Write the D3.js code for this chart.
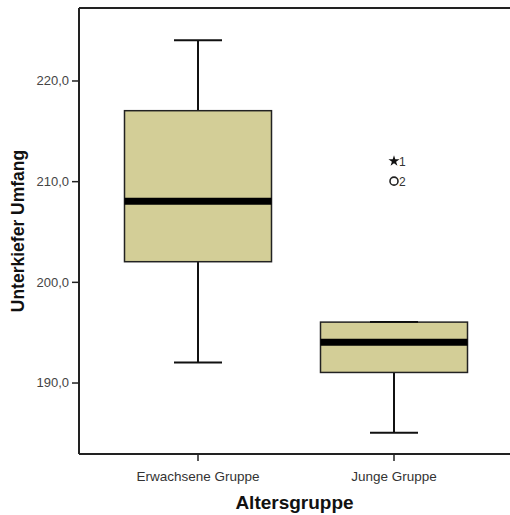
<!DOCTYPE html>
<html>
<head>
<meta charset="utf-8">
<script src="https://cdn.jsdelivr.net/npm/d3@7"></script>
<style>
  body { margin: 0; background: #fff; }
  text { font-family: Arial, "Liberation Sans", sans-serif; }
</style>
</head>
<body>
<div id="chart"></div>
<script>
// box plot values
const groups = ['Erwachsene Gruppe', 'Junge Gruppe'];
const whiskerLow = [192, 185];
const q1 = [202, 191];
const median = [208, 194];
const q3 = [217, 196];
const whiskerHigh = [224, 196];

// outliers: group index, value, case label, symbol
const outlierGroup = [1, 1];
const outlierValue = [212, 210];
const outlierLabel = ['1', '2'];
const outlierKind = ['star', 'circle'];

const yTicks = [190, 200, 210, 220];

const width = 510, height = 515;
const margin = {top: 8, right: 0, bottom: 61, left: 79};

const svg = d3.select('#chart').append('svg')
  .attr('width', width)
  .attr('height', height);

const y = d3.scaleLinear()
  .domain([182.9, 227.2])
  .range([height - margin.bottom, margin.top]);

const x = d3.scaleBand()
  .domain(groups)
  .range([100, 492])
  .paddingInner(0.25)
  .paddingOuter(0.125);

const boxData = groups.map((g, i) => ({
  g, lo: whiskerLow[i], q1: q1[i], med: median[i], q3: q3[i], hi: whiskerHigh[i]
}));

const capW = 48;

const boxes = svg.append('g').selectAll('g')
  .data(boxData)
  .join('g');

// whiskers
boxes.append('line')
  .attr('x1', d => x(d.g) + x.bandwidth() / 2)
  .attr('x2', d => x(d.g) + x.bandwidth() / 2)
  .attr('y1', d => y(d.hi))
  .attr('y2', d => y(d.q3))
  .attr('stroke', '#111').attr('stroke-width', 2);
boxes.append('line')
  .attr('x1', d => x(d.g) + x.bandwidth() / 2)
  .attr('x2', d => x(d.g) + x.bandwidth() / 2)
  .attr('y1', d => y(d.q1))
  .attr('y2', d => y(d.lo))
  .attr('stroke', '#111').attr('stroke-width', 2);

// box
boxes.append('rect')
  .attr('x', d => x(d.g))
  .attr('width', x.bandwidth())
  .attr('y', d => y(d.q3))
  .attr('height', d => y(d.q1) - y(d.q3))
  .attr('fill', '#d3ce97')
  .attr('stroke', '#222')
  .attr('stroke-width', 1.5);

// caps
boxes.append('line')
  .attr('x1', d => x(d.g) + x.bandwidth() / 2 - capW / 2)
  .attr('x2', d => x(d.g) + x.bandwidth() / 2 + capW / 2)
  .attr('y1', d => y(d.hi))
  .attr('y2', d => y(d.hi))
  .attr('stroke', '#111').attr('stroke-width', 2);
boxes.append('line')
  .attr('x1', d => x(d.g) + x.bandwidth() / 2 - capW / 2)
  .attr('x2', d => x(d.g) + x.bandwidth() / 2 + capW / 2)
  .attr('y1', d => y(d.lo))
  .attr('y2', d => y(d.lo))
  .attr('stroke', '#111').attr('stroke-width', 2);

// median
boxes.append('line')
  .attr('x1', d => x(d.g))
  .attr('x2', d => x(d.g) + x.bandwidth())
  .attr('y1', d => y(d.med))
  .attr('y2', d => y(d.med))
  .attr('stroke', '#000').attr('stroke-width', 7);

// outliers
const outliers = outlierValue.map((v, i) => ({
  g: groups[outlierGroup[i]], v, label: outlierLabel[i], kind: outlierKind[i]
}));

const og = svg.append('g').selectAll('g')
  .data(outliers)
  .join('g')
  .attr('transform', d => `translate(${x(d.g) + x.bandwidth() / 2},${y(d.v)})`);

og.filter(d => d.kind === 'circle').append('circle')
  .attr('r', 4)
  .attr('fill', 'none')
  .attr('stroke', '#222')
  .attr('stroke-width', 1.6);

og.filter(d => d.kind === 'star').append('path')
  .attr('d', d3.symbol().type(d3.symbolStar).size(38))
  .attr('fill', '#111');

og.append('text')
  .attr('x', 5)
  .attr('y', 4.5)
  .attr('font-size', 12)
  .attr('fill', '#333')
  .text(d => d.label);

// axes
const yAxis = svg.append('g')
  .attr('transform', `translate(${margin.left},0)`)
  .call(d3.axisLeft(y).tickValues(yTicks).tickSize(7).tickSizeOuter(0)
    .tickFormat(d => d3.format('.1f')(d).replace('.', ',')));
yAxis.select('.domain').attr('stroke', '#222').attr('stroke-width', 2)
  .attr('d', `M0,${margin.top}V${height - margin.bottom}`);
yAxis.selectAll('.tick line').attr('stroke', '#222').attr('stroke-width', 1.5);
yAxis.selectAll('.tick text')
  .attr('font-size', 13)
  .attr('fill', '#444')
  .attr('font-family', 'Arial, "Liberation Sans", sans-serif')
  .attr('x', -10);

const xAxis = svg.append('g')
  .attr('transform', `translate(0,${height - margin.bottom})`)
  .call(d3.axisBottom(x).tickSize(7).tickSizeOuter(0));
xAxis.select('.domain').attr('stroke', '#222').attr('stroke-width', 2)
  .attr('d', `M${margin.left},0H${width}`);
xAxis.selectAll('.tick line').attr('stroke', '#222').attr('stroke-width', 1.5);
xAxis.selectAll('.tick text')
  .attr('font-size', 13.5)
  .attr('fill', '#333')
  .attr('font-family', 'Arial, "Liberation Sans", sans-serif')
  .attr('y', 17);

// top frame line
svg.append('line')
  .attr('x1', margin.left).attr('x2', width)
  .attr('y1', margin.top).attr('y2', margin.top)
  .attr('stroke', '#222').attr('stroke-width', 2);

// titles
svg.append('text')
  .attr('x', (margin.left + width) / 2)
  .attr('y', 509)
  .attr('text-anchor', 'middle')
  .attr('font-size', 19)
  .attr('font-weight', 'bold')
  .attr('fill', '#111')
  .text('Altersgruppe');

svg.append('text')
  .attr('transform', `translate(24,${(margin.top + height - margin.bottom) / 2}) rotate(-90)`)
  .attr('text-anchor', 'middle')
  .attr('font-size', 17.5)
  .attr('font-weight', 'bold')
  .attr('fill', '#111')
  .text('Unterkiefer Umfang');
</script>
</body>
</html>
